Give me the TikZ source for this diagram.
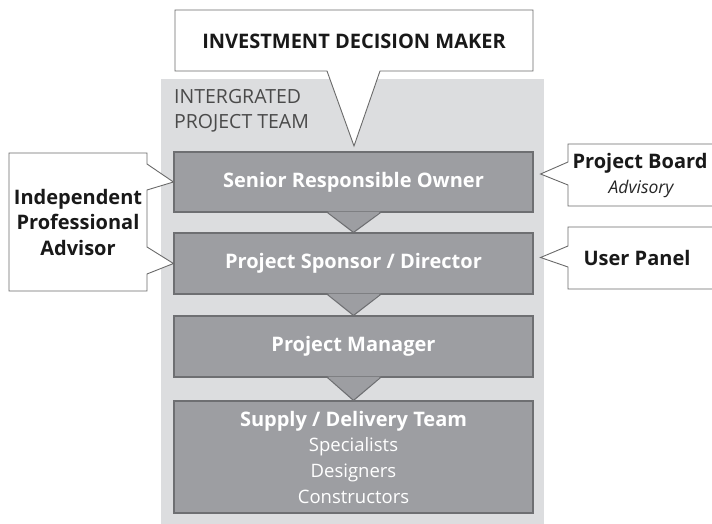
\documentclass[tikz,border=0pt]{standalone}
\usepackage{fontspec}
\setmainfont{Open Sans}
\usetikzlibrary{calc}
\definecolor{bgteam}{HTML}{DCDDDF}
\definecolor{boxfill}{HTML}{9D9EA2}
\definecolor{boxline}{HTML}{6E6F72}
\definecolor{calline}{HTML}{6A6A6A}
\definecolor{teamtxt}{HTML}{4A4A4A}
\tikzset{
  darkbox/.style={draw=boxline, fill=boxfill, line width=1.1pt, minimum width=359pt, inner sep=0pt, text=white, align=center, font=\fontsize{20}{26}\selectfont\bfseries},
  callout/.style={draw=calline, fill=white, line width=0.9pt, line join=miter},
  calltext/.style={align=center, text=black!90, font=\fontsize{20}{25.5}\selectfont\bfseries, inner sep=0pt},
}
\begin{document}
\begin{tikzpicture}[x=1pt,y=-1pt]
\useasboundingbox (0,0) rectangle (712,524);
% team background
\fill[bgteam] (161,79) rectangle (544,524);
\node[anchor=north west, align=left, text=teamtxt, inner sep=0pt, font=\fontsize{19.5}{25}\selectfont] (team) at (174,89) {INTERGRATED\\PROJECT TEAM};
% top callout
\draw[callout] (175,10) -- (533,10) -- (533,71) -- (380,71) -- (354,146) -- (327,71) -- (175,71) -- cycle;
\node[calltext] (idm) at (354,41) {INVESTMENT DECISION MAKER};
% dark boxes
\node[darkbox, minimum height=60pt] (sro) at (353.5,182) {Senior Responsible Owner};
\node[darkbox, minimum height=61pt] (psd) at (353.5,263.5) {Project Sponsor / Director};
\node[darkbox, minimum height=61pt] (pm) at (353.5,346.5) {Project Manager};
\node[darkbox, minimum height=112pt] (sdt) at (353.5,457) {Supply / Delivery Team\\[-1pt]{\fontsize{18.5}{26}\selectfont\mdseries Specialists}\\{\fontsize{18.5}{26}\selectfont\mdseries Designers}\\{\fontsize{18.5}{26}\selectfont\mdseries Constructors}};
% down pointers
\foreach \a/\b in {sro/psd, psd/pm, pm/sdt}{
  \fill[boxfill] ([xshift=-26pt,yshift=1pt]\a.south) -- (\b.north) -- ([xshift=27pt,yshift=1pt]\a.south) -- cycle;
  \draw[boxline, line width=1.1pt, line join=miter] ([xshift=-26pt]\a.south) -- (\b.north) -- ([xshift=27pt]\a.south);
}
% left callout
\draw[callout] (9,153) -- (147,153) -- (147,164) -- (sro.west) -- (147,190) -- (147,247) -- (psd.west) -- (147,274) -- (147,291) -- (9,291) -- cycle;
\node[calltext] (ipa) at (78,222) {Independent\\Professional\\Advisor};
% right callouts
\draw[callout] (713,144) -- (568,144) -- (568,162) -- ($(sro.east)+(7,-8)$) -- (568,185) -- (568,206) -- (713,206);
\node[calltext] (pb) at (640,163) {Project Board};
\node[inner sep=0pt, font=\fontsize{17.5}{18}\selectfont\itshape, text=black!85] (adv) at (641,189) {Advisory};
\draw[callout] (713,227) -- (568,227) -- (568,246) -- ($(psd.east)+(7,-6)$) -- (568,267) -- (568,289) -- (713,289);
\node[calltext] (up) at (637,258) {User Panel};
\end{tikzpicture}
\end{document}
